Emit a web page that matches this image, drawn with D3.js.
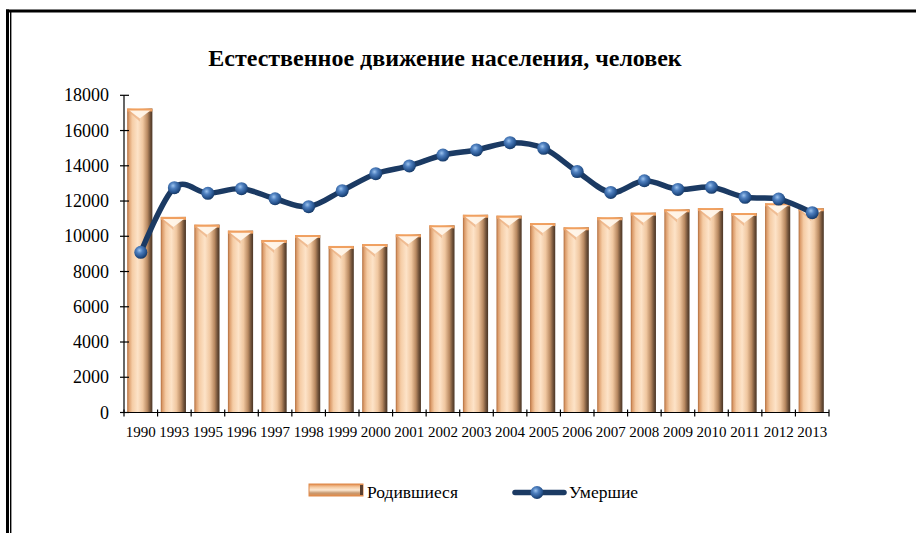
<!DOCTYPE html>
<html>
<head>
<meta charset="utf-8">
<script src="https://cdn.jsdelivr.net/npm/d3@7"></script>
<style>
html,body{margin:0;padding:0;background:#fff;}
svg{display:block;}
svg text{font-family:"Liberation Serif","Times New Roman","DejaVu Serif",serif;}
</style>
</head>
<body>
<svg id="chart" width="916" height="533"></svg>
<script>
const title = "Естественное движение населения, человек";
const years = ["1990","1993","1995","1996","1997","1998","1999","2000","2001","2002","2003","2004","2005","2006","2007","2008","2009","2010","2011","2012","2013"];
const births = [17250,11100,10660,10320,9790,10070,9450,9560,10110,10620,11220,11170,10750,10510,11080,11340,11530,11600,11320,11870,11590];
const deaths = [9090,12760,12440,12700,12130,11680,12590,13550,13990,14610,14900,15310,14990,13670,12490,13150,12660,12780,12210,12110,11340];
const yTicks = [0,2000,4000,6000,8000,10000,12000,14000,16000,18000];
const seriesNames = ["Родившиеся","Умершие"];

const svg = d3.select("#chart");
const defs = svg.append("defs");

const bg = defs.append("linearGradient").attr("id","barGrad").attr("x1","0").attr("x2","1").attr("y1","0").attr("y2","0");
[[0,"#b06c3c"],[0.07,"#dc9d6c"],[0.2,"#f5ccA5"],[0.42,"#fde3c8"],[0.62,"#f0c7a0"],[0.8,"#b98a62"],[0.92,"#6e5038"],[1,"#4a3525"]]
  .forEach(([o,c])=>bg.append("stop").attr("offset",o).attr("stop-color",c));
const lg = defs.append("linearGradient").attr("id","legGrad").attr("x1","0").attr("x2","0").attr("y1","0").attr("y2","1");
[[0,"#e08a4a"],[0.25,"#f5c9a0"],[0.5,"#fde8d2"],[0.75,"#c79a72"],[1,"#e08a4a"]]
  .forEach(([o,c])=>lg.append("stop").attr("offset",o).attr("stop-color",c));
const rg = defs.append("radialGradient").attr("id","ballGrad").attr("cx","0.4").attr("cy","0.35").attr("r","0.65");
[[0,"#9cc3ee"],[0.35,"#4f80bf"],[0.8,"#24508a"],[1,"#173a66"]]
  .forEach(([o,c])=>rg.append("stop").attr("offset",o).attr("stop-color",c));

svg.append("rect").attr("x",6).attr("y",9.5).attr("width",910).attr("height",3).attr("fill","#000");
svg.append("rect").attr("x",6).attr("y",9.5).attr("width",3).attr("height",524).attr("fill","#000");
svg.append("rect").attr("x",10).attr("y",12).attr("width",1.4).attr("height",521).attr("fill","#000");

svg.append("text").attr("x",445).attr("y",65.5).attr("text-anchor","middle")
  .attr("font-weight","bold").attr("font-size",24).attr("fill","#000").text(title);

const x = d3.scaleBand().domain(years).range([124,829]).paddingInner(0).paddingOuter(0);
const y = d3.scaleLinear().domain([0,18000]).range([412.5,95.3]);
const bw = x.bandwidth()*0.75;

const bars = svg.append("g");
years.forEach((yr,i)=>{
  const cx = x(yr)+x.bandwidth()/2 - 1;
  const x0 = cx-bw/2, top = y(births[i]), bot = y(0);
  bars.append("rect").attr("x",x0).attr("y",top).attr("width",bw).attr("height",bot-top).attr("fill","url(#barGrad)");
  bars.append("rect").attr("x",x0).attr("y",top).attr("width",bw).attr("height",3).attr("fill","#f0a060");
  bars.append("path").attr("d",`M${x0+2},${top+2}L${x0+bw-2},${top+2}L${cx},${top+10}Z`).attr("fill","#fff6ea").attr("opacity",0.95);
  bars.append("path").attr("d",`M${x0},${top+2}L${x0+2},${top+2}L${cx},${top+10}L${cx},${top+13}Z`).attr("fill","#e9a878").attr("opacity",0.6);
});

const ya = svg.append("g");
ya.append("line").attr("x1",124).attr("x2",124).attr("y1",y(18000)).attr("y2",y(0)).attr("stroke","#000").attr("stroke-width",1.2);
yTicks.forEach(t=>{
  ya.append("line").attr("x1",120).attr("x2",129).attr("y1",y(t)).attr("y2",y(t)).attr("stroke","#000").attr("stroke-width",1.2);
  ya.append("text").attr("x",109).attr("y",y(t)+6).attr("text-anchor","end")
    .attr("font-size",18).attr("fill","#000").text(t);
});
const xa = svg.append("g");
xa.append("line").attr("x1",124).attr("x2",829).attr("y1",y(0)).attr("y2",y(0)).attr("stroke","#000").attr("stroke-width",1.2);
years.forEach((yr,i)=>{
  xa.append("line").attr("x1",x(yr)).attr("x2",x(yr)).attr("y1",y(0)-3).attr("y2",y(0)+4).attr("stroke","#000").attr("stroke-width",1.2);
  xa.append("text").attr("x",x(yr)+x.bandwidth()/2).attr("y",437).attr("text-anchor","middle")
    .attr("font-size",15).attr("fill","#000").text(yr);
});
xa.append("line").attr("x1",829).attr("x2",829).attr("y1",y(0)-3).attr("y2",y(0)+4).attr("stroke","#000").attr("stroke-width",1.2);

const pts = years.map((yr,i)=>[x(yr)+x.bandwidth()/2, y(deaths[i])]);
svg.append("path").attr("d",d3.line().curve(d3.curveCardinal.tension(0))(pts))
  .attr("fill","none").attr("stroke","#1b3a63").attr("stroke-width",5.5).attr("stroke-linejoin","round");
svg.append("g").selectAll("circle").data(pts).join("circle")
  .attr("cx",d=>d[0]).attr("cy",d=>d[1]).attr("r",6.5).attr("fill","url(#ballGrad)");

const leg = svg.append("g");
leg.append("rect").attr("x",309).attr("y",484).attr("width",54).attr("height",12).attr("fill","url(#legGrad)").attr("stroke","#e08a4a").attr("stroke-width",1);
leg.append("rect").attr("x",360).attr("y",485).attr("width",3).attr("height",10).attr("fill","#5a4030");
leg.append("text").attr("x",367).attr("y",498).attr("font-size",17.5).attr("fill","#000").text(seriesNames[0]);
leg.append("line").attr("x1",515).attr("x2",564).attr("y1",492.5).attr("y2",492.5).attr("stroke","#1b3a63").attr("stroke-width",5.5).attr("stroke-linecap","round");
leg.append("circle").attr("cx",537).attr("cy",492.5).attr("r",6.5).attr("fill","url(#ballGrad)");
leg.append("text").attr("x",569).attr("y",498).attr("font-size",17.5).attr("fill","#000").text(seriesNames[1]);
</script>
</body>
</html>
